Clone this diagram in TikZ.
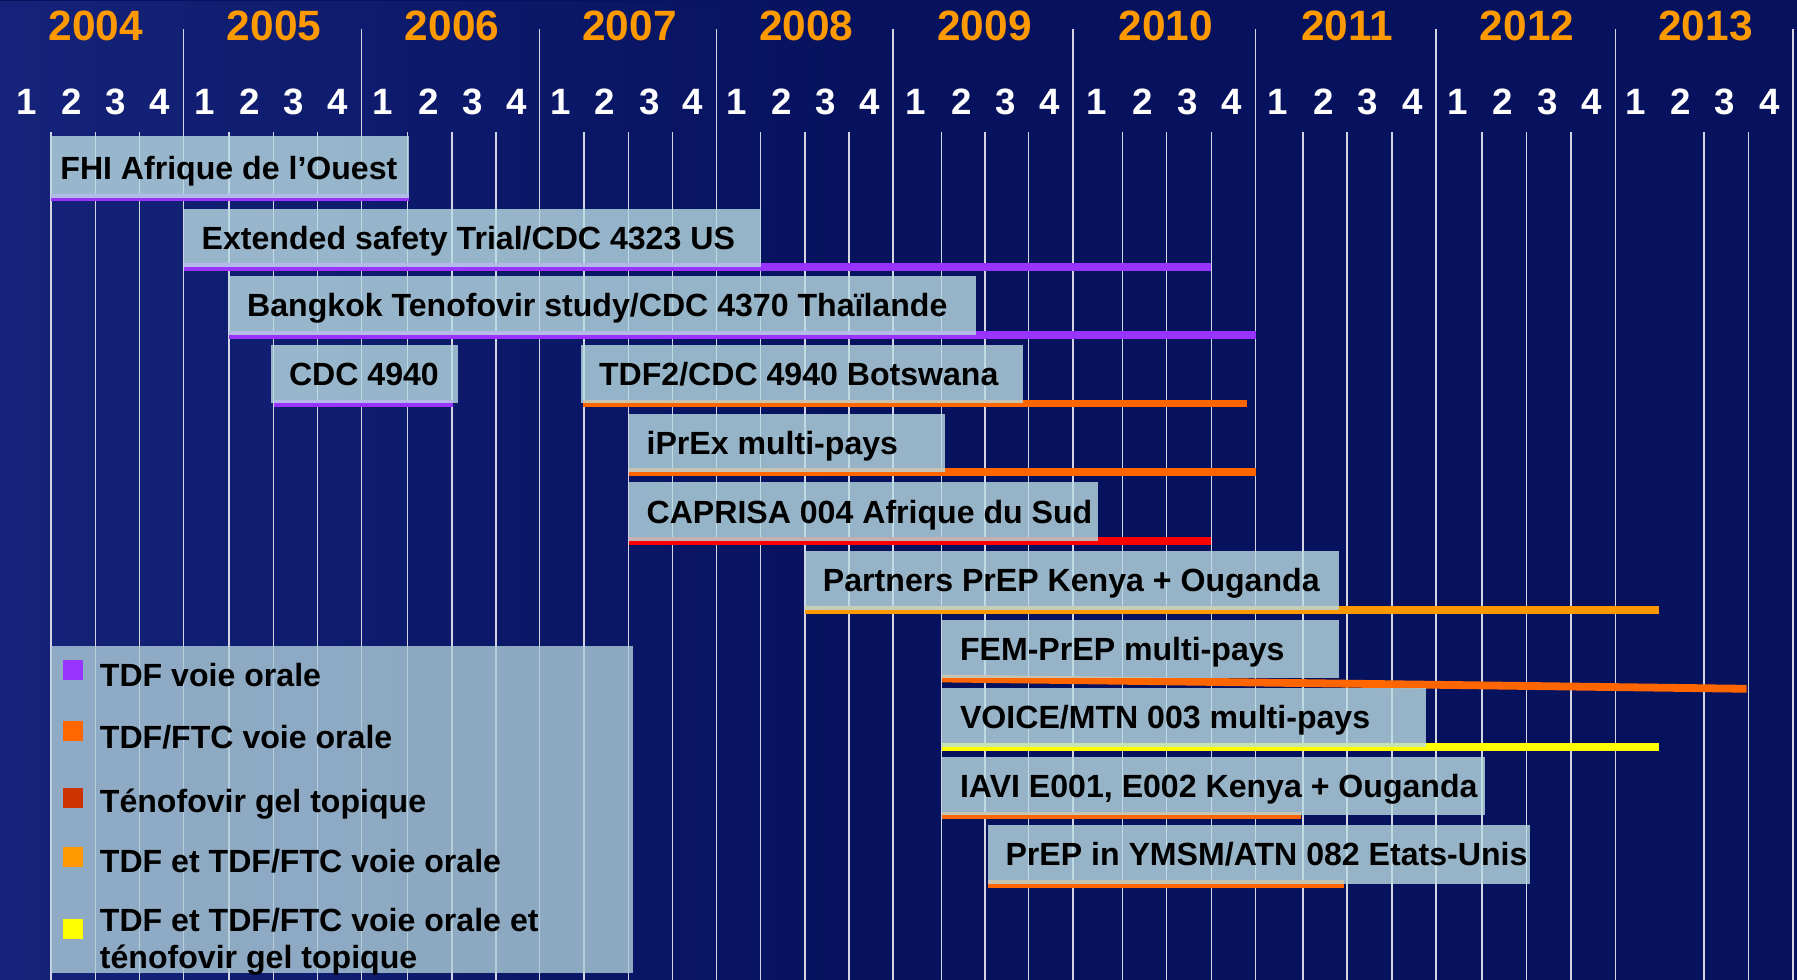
\documentclass[tikz,border=0pt]{standalone}
\usepackage{fontspec}
\setmainfont{Liberation Sans}
\usetikzlibrary{fadings}
\definecolor{bgnavy}{HTML}{06125E}
\definecolor{bgtex}{HTML}{1B2A86}
\definecolor{gridc}{HTML}{D2D4E2}
\definecolor{boxc}{HTML}{BADCE2}
\definecolor{legc}{HTML}{AECDD8}
\definecolor{cpurple}{HTML}{9933FF}
\definecolor{corange}{HTML}{FF6600}
\definecolor{cred}{HTML}{FF0000}
\definecolor{camber}{HTML}{FF9900}
\definecolor{cyellow}{HTML}{FFFF00}
\definecolor{cbrick}{HTML}{CC3300}
\definecolor{yearc}{HTML}{FF9900}
\tikzset{
  lbl/.style={font=\fontsize{28}{30}\selectfont\bfseries, text=black, inner sep=0pt, anchor=base west},
  yearlbl/.style={font=\fontsize{37}{40}\selectfont\bfseries, text=yearc, inner sep=0pt, anchor=base},
  qlbl/.style={font=\fontsize{32}{34}\selectfont\bfseries, text=white, inner sep=0pt, anchor=base},
  gridline/.style={draw=gridc, line width=1.3pt},
  studybox/.style={fill=boxc, fill opacity=0.8},
  legbox/.style={fill=legc, fill opacity=0.8},
}
\newcommand\ganttrow[8]{%
  \fill[#7] (#4,#6-3.4) rectangle (#5,#6+3.4);
  \fill[studybox] (#2,#6-51) rectangle (#3,#6);
  \node[lbl] (#1) at (#2+15.5,#6-15.5) {#8};
}
\begin{document}
\begin{tikzpicture}[x=1pt,y=-1pt]
\useasboundingbox (0,0) rectangle (1568,855);
% background
\fill[bgnavy] (0,0) rectangle (1568,855);
\fill[bgtex, path fading=east, fill opacity=0.7] (0,0) rectangle (760,855);
% grid lines
\foreach \x in {160.3,315.5,470.8,625.3,779.3,936.3,1095.5,1253,1409.4,1564.4}
  \draw[gridline] (\x,25.6) -- (\x,855);
\foreach \x in {44.5,83.3,121.7,200,238.7,277,355.7,394.3,432.7,509.5,548.6,587,
                663.6,702.4,740.6,821.5,859.5,897.6,979.6,1018,1057,
                1137,1175.5,1214.5,1293,1332,1370.8,1487,1525.7}
  \draw[gridline] (\x,114.8) -- (\x,855);
% year labels
\foreach \a/\b/\yr in {4.5/160.3/2004,160.3/315.5/2005,315.5/470.8/2006,470.8/625.3/2007,
  625.3/779.3/2008,779.3/936.3/2009,936.3/1095.5/2010,1095.5/1253/2011,1253/1409.4/2012,1409.4/1564.4/2013}
  \node[yearlbl] (y\yr) at ({(\a+\b)/2+1.3},35.5) {\yr};
% quarter labels
\foreach \a/\b/\l [count=\i] in {4.5/44.5/1,44.5/83.3/2,83.3/121.7/3,121.7/160.3/4,
  160.3/200/1,200/238.7/2,238.7/277/3,277/315.5/4,
  315.5/355.7/1,355.7/394.3/2,394.3/432.7/3,432.7/470.8/4,
  470.8/509.5/1,509.5/548.6/2,548.6/587/3,587/625.3/4,
  625.3/663.6/1,663.6/702.4/2,702.4/740.6/3,740.6/779.3/4,
  779.3/821.5/1,821.5/859.5/2,859.5/897.6/3,897.6/936.3/4,
  936.3/979.6/1,979.6/1018/2,1018/1057/3,1057/1095.5/4,
  1095.5/1137/1,1137/1175.5/2,1175.5/1214.5/3,1214.5/1253/4,
  1253/1293/1,1293/1332/2,1332/1370.8/3,1370.8/1409.4/4,
  1409.4/1448.2/1,1448.2/1487/2,1487/1525.7/3,1525.7/1564.4/4}
  \node[qlbl] (q\i) at ({(\a+\b)/2-1.3},100) {\l};
% rows
\fill[cpurple] (44.5,169) rectangle (356.5,175.8);
\fill[studybox] (44.5,118.5) rectangle (356.5,172.4);
\node[lbl] (fhi) at (52.5,156.5) {FHI Afrique de l’Ouest};
\ganttrow{ext}{160.3}{664}{160.3}{1057}{233}{cpurple}{Extended safety Trial/CDC 4323 US}
\ganttrow{bkk}{200}{852}{200}{1095.5}{292}{cpurple}{Bangkok Tenofovir study/CDC 4370 Thaïlande}
\ganttrow{cdc}{236.5}{399.5}{239}{395}{352}{cpurple}{CDC 4940}
\ganttrow{tdf2}{507}{892.5}{508.6}{1088.4}{352}{corange}{TDF2/CDC 4940 Botswana}
\ganttrow{iprex}{548.5}{824.5}{548.5}{1095.5}{412}{corange}{iPrEx multi-pays}
\ganttrow{caprisa}{548.5}{958.3}{548.5}{1057}{472}{cred}{CAPRISA 004 Afrique du Sud}
\ganttrow{partners}{702.4}{1168.4}{702.4}{1447.4}{532}{camber}{Partners PrEP Kenya + Ouganda}
% FEM-PrEP (slanted bar)
\fill[corange] (822,588.6) -- (1524,597.6) -- (1524,604.4) -- (822,595.4) -- cycle;
\fill[studybox] (822,541) rectangle (1168.4,591.5);
\node[lbl] (fem) at (837.5,576) {FEM-PrEP multi-pays};
\ganttrow{voice}{822}{1244}{822}{1447.4}{651.5}{cyellow}{VOICE/MTN 003 multi-pays}
\ganttrow{iavi}{822}{1296}{822}{1135}{711.5}{corange}{IAVI E001, E002 Kenya + Ouganda}
\ganttrow{ymsm}{861.7}{1335.4}{861.7}{1172.7}{771}{corange}{PrEP in YMSM/ATN 082 Etats-Unis}
% legend
\fill[legbox] (44.5,563.7) rectangle (552.7,849.3);
\fill[cpurple] (55,575.9) rectangle (72.4,593.3);
\fill[corange] (55,629.3) rectangle (72.4,646.7);
\fill[cbrick] (55,687.6) rectangle (72.4,705);
\fill[camber] (55,739.3) rectangle (72.4,756.7);
\fill[cyellow] (55,802.3) rectangle (72.4,819.7);
\node[lbl] (leg1) at (87,599.2) {TDF voie orale};
\node[lbl] (leg2) at (87,653.5) {TDF/FTC voie orale};
\node[lbl] (leg3) at (87,709) {Ténofovir gel topique};
\node[lbl] (leg4) at (87,761.2) {TDF et TDF/FTC voie orale};
\node[lbl] (leg5a) at (87,812.5) {TDF et TDF/FTC voie orale et};
\node[lbl] (leg5b) at (87,845) {ténofovir gel topique};
\end{tikzpicture}
\end{document}
